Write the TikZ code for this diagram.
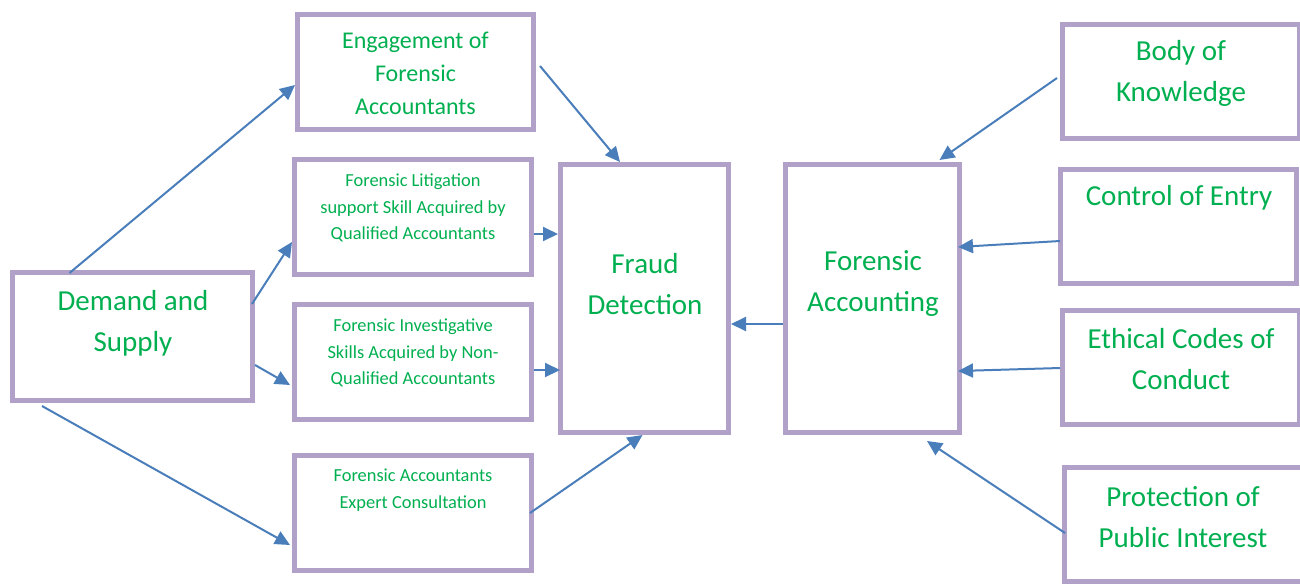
\documentclass[tikz,border=0pt]{standalone}
\usepackage{fontspec}
\setmainfont{Carlito}
\usetikzlibrary{arrows.meta}
\definecolor{boxline}{HTML}{B1A0C7}
\definecolor{txtgreen}{HTML}{00B050}
\definecolor{arrowblue}{HTML}{4A7EBB}

\begin{document}
\begin{tikzpicture}[x=1pt,y=-1pt,
  box/.style={draw=boxline, line width=5pt, inner sep=0pt, fill=white},
  lbl/.style={text=txtgreen, align=center, inner sep=0pt},
  big/.style={lbl, font=\fontsize{29}{41}\selectfont},
  mid/.style={lbl, font=\fontsize{24}{33}\selectfont},
  small/.style={lbl, font=\fontsize{18.4}{26.5}\selectfont},
  arr/.style={draw=arrowblue, line width=2pt, -{Triangle[length=15pt,width=14pt]}}]
\useasboundingbox (0,0) rectangle (1300,584);

% --- boxes (stroke-centred sizes) ---
\node[box, minimum width=240pt, minimum height=128pt] (ds)  at (132.5,336.5) {};
\node[box, minimum width=236pt, minimum height=115pt] (eng) at (415.5,72) {};
\node[box, minimum width=237pt, minimum height=115pt] (lit) at (413,217) {};
\node[box, minimum width=237pt, minimum height=115pt] (inv) at (413,362) {};
\node[box, minimum width=237pt, minimum height=115pt] (exp) at (413,513) {};
\node[box, minimum width=168pt, minimum height=268pt] (fd)  at (644.5,298.5) {};
\node[box, minimum width=174pt, minimum height=268pt] (fa)  at (872.5,298.5) {};
\node[box, minimum width=237pt, minimum height=114pt] (bok) at (1181,81.5) {};
\node[box, minimum width=236pt, minimum height=114pt] (coe) at (1178.5,226.5) {};
\node[box, minimum width=237pt, minimum height=114pt] (eth) at (1181,367.5) {};
\node[box, minimum width=240pt, minimum height=114pt] (pro) at (1184.5,524.5) {};

% --- labels ---
\node[big]   (dst)  at (133,323)   {Demand and\\Supply};
\node[mid]   (engt) at (415.5,73)  {Engagement of\\Forensic\\Accountants};
\node[small] (litt) at (413,208)   {Forensic Litigation\\support Skill Acquired by\\Qualified Accountants};
\node[small] (invt) at (413,353)   {Forensic Investigative\\Skills Acquired by Non-\\Qualified Accountants};
\node[small] (expt) at (413,490)   {Forensic Accountants\\Expert Consultation};
\node[big]   (fdt)  at (645,284)   {Fraud\\Detection};
\node[big]   (fat)  at (873,284)   {Forensic\\Accounting};
\node[big]   (bokt) at (1181,73)   {Body of\\Knowledge};
\node[big]   (coet) at (1179,198)  {Control of Entry};
\node[big]   (etht) at (1181,359.5){Ethical Codes of\\Conduct};
\node[big]   (prot) at (1183,517)  {Protection of\\Public Interest};

% --- connectors ---
\draw[arr] ([shift={(59.5,3)}]ds.north west) -- ([shift={(0,13)}]eng.west);
\draw[arr] ([shift={(-3,-32.5)}]ds.east) -- ([shift={(0,25)}]lit.west);
\draw[arr] ([shift={(0,28.5)}]ds.east) -- ([shift={(-2,23)}]inv.west);
\draw[arr] ([shift={(32,3)}]ds.south west) -- ([shift={(-2,32)}]exp.west);

\draw[arr] ([shift={(4,-6)}]eng.east) -- ([shift={(62,0)}]fd.north west);
\draw[arr] ([shift={(0,17)}]lit.east) -- ([shift={(0,-64.5)}]fd.west);
\draw[arr] ([shift={(0,8)}]inv.east) -- ([shift={(2,71.5)}]fd.west);
\draw[arr] ([shift={(-4,0)}]exp.east) -- ([shift={(-2,0)}]fd.south);

\draw[arr] ([shift={(0,25.5)}]fa.west) -- ([shift={(0,25.5)}]fd.east);

\draw[arr] ([shift={(-3,-3.5)}]bok.west) -- ([shift={(67,-2)}]fa.north);
\draw[arr] ([shift={(2,14.5)}]coe.west) -- ([shift={(-4,-51.5)}]fa.east);
\draw[arr] ([shift={(0,0.5)}]eth.west) -- ([shift={(-4,72.5)}]fa.east);
\draw[arr] ([shift={(3,8.5)}]pro.west) -- ([shift={(54.5,6)}]fa.south);
\end{tikzpicture}
\end{document}
